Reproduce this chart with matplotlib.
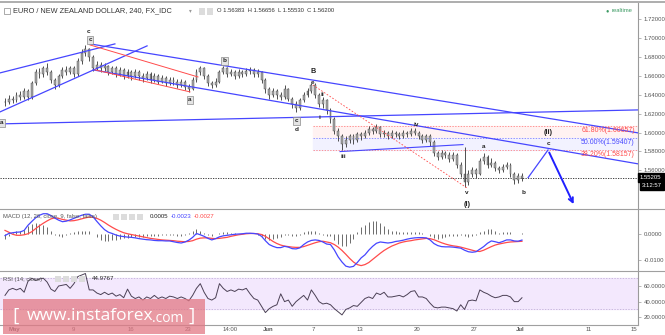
import matplotlib.pyplot as plt
from matplotlib.patches import Rectangle
from matplotlib.lines import Line2D

plt.rcParams['font.family'] = ['Liberation Sans', 'DejaVu Sans']

# 4H bars, EUR/NZD
close = [1.632, 1.636, 1.634, 1.640, 1.638, 1.644, 1.638, 1.652, 1.664, 1.662,
         1.668, 1.664, 1.656, 1.650, 1.660, 1.666, 1.664, 1.668, 1.662, 1.676,
         1.684, 1.688, 1.680, 1.668, 1.672, 1.668, 1.670, 1.664, 1.668, 1.662,
         1.666, 1.660, 1.664, 1.660, 1.664, 1.660, 1.658, 1.662, 1.656, 1.660,
         1.654, 1.658, 1.652, 1.656, 1.654, 1.650, 1.654, 1.648, 1.646, 1.656,
         1.664, 1.668, 1.660, 1.652, 1.650, 1.654, 1.664, 1.668, 1.662, 1.664,
         1.660, 1.664, 1.662, 1.665, 1.666, 1.662, 1.664, 1.656, 1.646, 1.640,
         1.644, 1.640, 1.638, 1.646, 1.636, 1.630, 1.626, 1.634, 1.640, 1.644,
         1.650, 1.640, 1.630, 1.634, 1.624, 1.614, 1.602, 1.596, 1.588, 1.592,
         1.596, 1.592, 1.598, 1.596, 1.600, 1.604, 1.602, 1.606, 1.598, 1.600,
         1.596, 1.600, 1.598, 1.596, 1.600, 1.598, 1.602, 1.600, 1.596, 1.592,
         1.596, 1.590, 1.578, 1.574, 1.578, 1.576, 1.572, 1.576, 1.566, 1.556,
         1.548, 1.556, 1.560, 1.556, 1.570, 1.574, 1.566, 1.568, 1.562, 1.560,
         1.564, 1.566, 1.556, 1.550, 1.554, 1.55205]
high = [1.637, 1.640, 1.639, 1.643, 1.644, 1.647, 1.646, 1.655, 1.667, 1.668,
        1.671, 1.674, 1.666, 1.658, 1.662, 1.669, 1.670, 1.671, 1.670, 1.679,
        1.688, 1.693, 1.690, 1.682, 1.676, 1.675, 1.674, 1.672, 1.671, 1.670,
        1.669, 1.668, 1.667, 1.666, 1.667, 1.666, 1.663, 1.665, 1.664, 1.663,
        1.662, 1.661, 1.660, 1.659, 1.659, 1.657, 1.657, 1.656, 1.651, 1.659,
        1.667, 1.670, 1.669, 1.662, 1.655, 1.658, 1.666, 1.670, 1.669, 1.667,
        1.666, 1.667, 1.666, 1.668, 1.669, 1.668, 1.667, 1.665, 1.658, 1.648,
        1.647, 1.646, 1.643, 1.650, 1.647, 1.638, 1.633, 1.637, 1.643, 1.647,
        1.653, 1.652, 1.642, 1.638, 1.636, 1.626, 1.616, 1.605, 1.598, 1.596,
        1.599, 1.598, 1.601, 1.601, 1.603, 1.607, 1.606, 1.609, 1.607, 1.603,
        1.602, 1.603, 1.602, 1.601, 1.603, 1.602, 1.605, 1.605, 1.602, 1.598,
        1.599, 1.598, 1.592, 1.581, 1.582, 1.581, 1.579, 1.579, 1.578, 1.569,
        1.585, 1.560, 1.564, 1.562, 1.573, 1.578, 1.576, 1.573, 1.570, 1.565,
        1.567, 1.569, 1.568, 1.558, 1.557, 1.557]
low = [1.628, 1.630, 1.631, 1.632, 1.635, 1.636, 1.634, 1.636, 1.650, 1.658,
       1.659, 1.661, 1.653, 1.646, 1.648, 1.658, 1.661, 1.662, 1.659, 1.660,
       1.673, 1.681, 1.676, 1.665, 1.666, 1.664, 1.665, 1.661, 1.662, 1.659,
       1.660, 1.657, 1.658, 1.656, 1.658, 1.656, 1.654, 1.656, 1.653, 1.654,
       1.651, 1.652, 1.649, 1.650, 1.650, 1.647, 1.648, 1.645, 1.643, 1.645,
       1.654, 1.661, 1.657, 1.649, 1.647, 1.648, 1.652, 1.662, 1.659, 1.660,
       1.657, 1.658, 1.659, 1.660, 1.662, 1.659, 1.659, 1.652, 1.642, 1.636,
       1.638, 1.636, 1.634, 1.636, 1.633, 1.626, 1.622, 1.624, 1.632, 1.638,
       1.642, 1.637, 1.627, 1.626, 1.620, 1.610, 1.598, 1.591, 1.582, 1.585,
       1.589, 1.588, 1.590, 1.592, 1.594, 1.597, 1.598, 1.600, 1.595, 1.595,
       1.593, 1.594, 1.595, 1.593, 1.594, 1.595, 1.596, 1.597, 1.593, 1.589,
       1.590, 1.586, 1.575, 1.571, 1.572, 1.573, 1.569, 1.570, 1.563, 1.553,
       1.542, 1.545, 1.553, 1.552, 1.555, 1.567, 1.563, 1.564, 1.559, 1.557,
       1.558, 1.561, 1.553, 1.546, 1.547, 1.549]

macd = [-0.0005, 0.0003, 0.0006, 0.0008, 0.0009, 0.0015, 0.0035, 0.0050, 0.0064, 0.0074,
        0.0080, 0.0080, 0.0073, 0.0063, 0.0055, 0.0049, 0.0051, 0.0056, 0.0062, 0.0068,
        0.0074, 0.0078, 0.0078, 0.0068, 0.0050, 0.0033, 0.0018, 0.0008, 0.0003, -0.0003,
        -0.0007, -0.0009, -0.0011, -0.0012, -0.0014, -0.0017, -0.0019, -0.0021, -0.0022, -0.0024,
        -0.0025, -0.0025, -0.0026, -0.0026, -0.0029, -0.0032, -0.0034, -0.0030, -0.0023, -0.0012,
        0.0003, -0.0002, -0.0008, -0.0016, -0.0022, -0.0017, -0.0010, -0.0006, -0.0004, -0.0002,
        0.0000, 0.0001, 0.0002, 0.0004, 0.0004, 0.0003, 0.0001, -0.0008, -0.0025, -0.0040,
        -0.0047, -0.0052, -0.0052, -0.0047, -0.0050, -0.0056, -0.0057, -0.0053, -0.0040, -0.0030,
        -0.0024, -0.0022, -0.0024, -0.0030, -0.0038, -0.0040, -0.0061, -0.0088, -0.0108, -0.0124,
        -0.0128, -0.0125, -0.0110, -0.0092, -0.0080, -0.0062, -0.0047, -0.0035, -0.0030, -0.0032,
        -0.0034, -0.0032, -0.0028, -0.0026, -0.0023, -0.0019, -0.0016, -0.0014, -0.0013, -0.0013,
        -0.0014, -0.0022, -0.0036, -0.0044, -0.0048, -0.0049, -0.0049, -0.0050, -0.0052, -0.0054,
        -0.0062, -0.0068, -0.0070, -0.0068, -0.0058, -0.0048, -0.0035, -0.0026, -0.0029, -0.0033,
        -0.0028, -0.0022, -0.0022, -0.0026, -0.0027, -0.00226]
signal = [0.0015, 0.0008, 0.0000, -0.0004, -0.0004, -0.0002, 0.0002, 0.0010, 0.0022, 0.0033,
          0.0043, 0.0052, 0.0060, 0.0064, 0.0062, 0.0058, 0.0055, 0.0052, 0.0053, 0.0056,
          0.0060, 0.0064, 0.0067, 0.0066, 0.0062, 0.0055, 0.0046, 0.0036, 0.0027, 0.0019,
          0.0012, 0.0006, 0.0002, -0.0001, -0.0004, -0.0007, -0.0010, -0.0013, -0.0016, -0.0018,
          -0.0020, -0.0022, -0.0023, -0.0024, -0.0025, -0.0027, -0.0028, -0.0029, -0.0028, -0.0025,
          -0.0019, -0.0015, -0.0014, -0.0014, -0.0016, -0.0017, -0.0016, -0.0014, -0.0012, -0.0008,
          -0.0005, -0.0002, 0.0000, 0.0002, 0.0003, 0.0003, 0.0002, -0.0001, -0.0008, -0.0018,
          -0.0028, -0.0036, -0.0042, -0.0046, -0.0048, -0.0050, -0.0051, -0.0051, -0.0048, -0.0043,
          -0.0038, -0.0033, -0.0029, -0.0027, -0.0030, -0.0033, -0.0040, -0.0050, -0.0063, -0.0078,
          -0.0094, -0.0108, -0.0118, -0.0122, -0.0118, -0.0110, -0.0098, -0.0086, -0.0074, -0.0063,
          -0.0054, -0.0046, -0.0040, -0.0034, -0.0030, -0.0027, -0.0025, -0.0022, -0.0020, -0.0018,
          -0.0016, -0.0017, -0.0021, -0.0027, -0.0033, -0.0038, -0.0042, -0.0045, -0.0047, -0.0050,
          -0.0054, -0.0058, -0.0062, -0.0066, -0.0067, -0.0062, -0.0055, -0.0048, -0.0042, -0.0038,
          -0.0035, -0.0032, -0.0030, -0.0029, -0.0028, -0.00274]

rsi = [48, 55, 57, 55, 57, 52, 66, 70, 67, 69,
       70, 65, 56, 53, 60, 61, 62, 57, 63, 72,
       74, 76, 55, 55, 51, 49, 52, 49, 51, 47,
       49, 45, 56, 47, 44, 46, 42, 46, 44, 48,
       44, 46, 44, 47, 46, 44, 46, 44, 41, 48,
       57, 63, 52, 44, 42, 45, 63, 57, 53, 55,
       53, 56, 55, 57, 50, 44, 42, 34, 26, 31,
       34, 36, 50, 40, 42, 34, 40, 44, 48, 42,
       55, 48, 40, 37, 38, 36, 31, 27, 23, 30,
       32, 35, 34, 39, 44, 46, 44, 51, 49, 52,
       46, 46, 47, 48, 46, 49, 53, 54, 46, 46,
       44, 38, 33, 32, 33, 33, 32, 31, 28, 36,
       30, 41, 42, 41, 55, 52, 50, 47, 45, 46,
       48, 48, 46, 40, 40, 44.9767]

date_ticks = [2.35, 17.75, 32.9, 47.8, 58.7, 68.7, 80.4, 92.7, 107.6, 122.5, 134.5, 152.5, 164.3]
date_labels = ['May', '9', '16', '23', '14:00', 'Jun', '7', '13', '20', '27', 'Jul', '11', '15']

fib_levels = [1.60657, 1.59407, 1.58157]
fib_names = ['61.80%', '50.00%', '38.20%']
last_price = 1.55205

# drawn trendlines: (x pair, price pair)
rise_upper = ([-1.3, 28.7], [1.6632, 1.6939])
rise_lower = ([-1.3, 37.1], [1.6219, 1.6918])
fall_upper = ([22.2, 165.3], [1.6939, 1.5997])
fall_lower = ([23.0, 165.3], [1.6664, 1.5669])
flat_line = ([-1.3, 165.3], [1.6092, 1.6240])
wave_iii_line = ([87.5, 119.6], [1.5799, 1.5873])
red_upper = ([22.2, 50.4], [1.6928, 1.6589])
red_lower = ([23.5, 48.3], [1.6664, 1.6431])
red_dotted = ([80.4, 120.6], [1.6504, 1.5415])
projection = ([136.6, 141.8], [1.5523, 1.58157])
arrow_end = (148.8, 1.5216)

wave_labels = [('c', 21.7, 1.7066, False), ('c', 22.2, 1.6981, True),
               ('b', 57.2, 1.6759, True), ('a', 48.3, 1.6346, True),
               ('B', 80.4, 1.6642, False), ('e', 80.4, 1.6527, False),
               ('ii', 83.0, 1.6400, False), ('c', 76.2, 1.6123, True),
               ('d', 76.2, 1.6028, False), ('i', 82.0, 1.6155, False),
               ('a', -0.9, 1.6102, True), ('iii', 88.3, 1.5743, False),
               ('iv', 107.3, 1.6082, False), ('v', 120.6, 1.5362, False),
               ('(i)', 120.6, 1.5235, False), ('a', 125.1, 1.5850, False),
               ('b', 135.5, 1.5362, False), ('(ii)', 141.8, 1.6004, False),
               ('c', 141.8, 1.5888, False)]

W, H = 665, 335
BLUE = '#4646ff'
RED = '#ff4b4b'
GREY_TXT = '#555555'


def fx(px):
    return px / W


def fy(py):
    return 1 - py / H


fig = plt.figure(figsize=(W / 100, H / 100), dpi=100)
fig.patch.set_facecolor('white')

ax = fig.add_axes([0, fy(209), fx(638), (209 - 3) / H])
ax_m = fig.add_axes([0, fy(271), fx(638), 62 / H], sharex=ax)
ax_r = fig.add_axes([0, fy(325), fx(638), 54 / H], sharex=ax)

xs = list(range(len(close)))
opens = [close[0]] + close[:-1]

for a in (ax, ax_m, ax_r):
    for s in a.spines.values():
        s.set_visible(False)
    a.spines['right'].set_visible(True)
    a.spines['right'].set_color('#9a9a9a')
    a.spines['right'].set_linewidth(0.8)
    a.yaxis.tick_right()
    a.tick_params(axis='y', length=2, width=0.5, color='#9a9a9a', labelsize=4.3,
                  labelcolor=GREY_TXT, pad=2)
    a.tick_params(axis='x', length=0, labelbottom=False)
    a.set_facecolor('none')

ax.set_xlim(-1.305, 165.3)

# price bars
ax.vlines(xs, low, high, color='#333333', lw=0.6, zorder=3)
body_h = [abs(c - o) if abs(c - o) > 0.0006 else 0.0006 for o, c in zip(opens, close)]
body_b = [min(o, c) for o, c in zip(opens, close)]
ax.bar(xs, body_h, bottom=body_b, width=0.5, color='#a8a8a8', edgecolor='#444444',
       linewidth=0.3, zorder=4)

# trendlines
for xl, yl in (rise_upper, rise_lower, fall_upper, fall_lower, flat_line):
    ax.plot(xl, yl, color=BLUE, lw=0.9, zorder=5)
ax.plot(*wave_iii_line, color=BLUE, lw=0.8, zorder=5)
for xl, yl in (red_upper, red_lower):
    ax.plot(xl, yl, color=RED, lw=0.7, zorder=5)
ax.plot(*red_dotted, color=RED, lw=0.6, ls=(0, (2, 2)), zorder=5)

# fibonacci retracement zone
fib_start = red_dotted[0][0]
fib_colors = [RED, BLUE, RED]
ax.fill_between([fib_start, 165.3], fib_levels[1], fib_levels[0], color='#fff2f2', zorder=1)
ax.fill_between([fib_start, 165.3], fib_levels[2], fib_levels[1], color='#f2f2ff', zorder=1)
for lvl, name, col in zip(fib_levels, fib_names, fib_colors):
    ax.plot([fib_start, 165.3], [lvl, lvl], color=col, lw=0.5, ls=(0, (2, 2)), alpha=0.8, zorder=2)
    ax.text(0.995, lvl - 0.0006, f'{name}({lvl:.5f})', transform=ax.get_yaxis_transform(),
            ha='right', va='top', fontsize=5, color=col, zorder=6)

# projected path
ax.plot(*projection, color=BLUE, lw=0.9, zorder=5)
ax.annotate('', xy=arrow_end, xytext=(projection[0][1], projection[1][1]),
            arrowprops=dict(arrowstyle='->', color='#2020ff', lw=1.4, mutation_scale=8),
            zorder=6)

# current price
ax.axhline(last_price, color='#222222', lw=0.6, ls=(0, (1.5, 1.5)), zorder=2)
ax.text(1.003, last_price, f'{last_price:.5f}', transform=ax.get_yaxis_transform(),
        ha='left', va='center', fontsize=4.3, color='white', clip_on=False,
        bbox=dict(boxstyle='square,pad=0.35', fc='black', ec='black'))
ax.text(1.006, last_price - 0.0078, '3:12:57', transform=ax.get_yaxis_transform(),
        ha='left', va='center', fontsize=4.3, color='white', clip_on=False,
        bbox=dict(boxstyle='square,pad=0.35', fc='black', ec='black'))

for txt, x, y, boxed in wave_labels:
    size = 5.2 if txt in ('B', '(i)', '(ii)') else 4.6
    kw = dict(ha='center', va='center', fontsize=size, color='#222222', zorder=7,
              fontweight='bold')
    if boxed:
        kw['bbox'] = dict(boxstyle='square,pad=0.25', fc='#e4e4e4', ec='#8a8a8a', lw=0.5)
    ax.text(x, y, txt, **kw)

ax.set_ylim(1.5191, 1.7372)
ax.set_yticks([1.56, 1.58, 1.60, 1.62, 1.64, 1.66, 1.68, 1.70, 1.72])
ax.set_yticklabels([f'{v:.5f}' for v in ax.get_yticks()])

# MACD panel
hist = [m - s for m, s in zip(macd, signal)]
ax_m.vlines(xs, 0, hist, color='#555555', lw=0.6)
ax_m.plot(xs, signal, color=RED, lw=0.9)
ax_m.plot(xs, macd, color=BLUE, lw=0.9)
ax_m.set_ylim(-0.0143, 0.00984)
ax_m.set_yticks([0.0, -0.01])
ax_m.set_yticklabels(['0.0000', '-0.0100'])

# RSI panel
ax_r.axhspan(30, 70, color='#f3e8fd', zorder=0)
for lvl in (30, 70):
    ax_r.axhline(lvl, color='#b9a6d3', lw=0.5, ls=(0, (2, 2)), zorder=1)
ax_r.plot(xs, rsi, color='#4b4055', lw=0.7, zorder=3)
ax_r.set_ylim(10.1, 79.2)
ax_r.set_yticks([20, 40, 60])
ax_r.set_yticklabels(['20.0000', '40.0000', '60.0000'])
ax_r.set_xticks(date_ticks)
ax_r.set_xticklabels(date_labels)
ax_r.tick_params(axis='x', labelbottom=True, labelsize=4.3, labelcolor=GREY_TXT, pad=1.5)
for lab in ax_r.get_xticklabels():
    if lab.get_text() in ('May', 'Jun', 'Jul'):
        lab.set_fontweight('bold')

# panel borders
for py, x1 in ((1.5, 665), (209, 665), (271, 665), (325, 638)):
    fig.add_artist(Line2D([0, fx(x1)], [fy(py), fy(py)], color='#a0a0a0',
                          lw=1.2 if py == 1.5 else 0.8))

# headers
fig.add_artist(Rectangle((fx(4), fy(14)), fx(6), 6 / H, fc='white', ec='#888888', lw=0.5))
fig.text(fx(13), fy(11), 'EURO / NEW ZEALAND DOLLAR, 240, FX_IDC', fontsize=5.3,
         color='#333333', va='center')
fig.text(fx(189), fy(11), '\u25be', fontsize=4, color='#999999', va='center')
for px in (199, 207):
    fig.add_artist(Rectangle((fx(px), fy(14.5)), fx(6), 7 / H, fc='#dcdcdc', ec='none'))
fig.text(fx(217), fy(11), 'O 1.56383  H 1.56656  L 1.55530  C 1.56200', fontsize=4.2,
         color='#333333', va='center')
fig.text(fx(606), fy(11), '\u25cf', fontsize=4, color='#3c9a63', va='center')
fig.text(fx(612), fy(11), 'realtime', fontsize=4.2, color='#3c9a63', va='center')

fig.text(fx(3), fy(216.5), 'MACD (12, 26, close, 9, false, false)', fontsize=4.2,
         color=GREY_TXT, va='center')
for px in (113, 121, 129, 137):
    fig.add_artist(Rectangle((fx(px), fy(219.5)), fx(6), 6 / H, fc='#dcdcdc', ec='none'))
fig.text(fx(150), fy(216.5), '0.0005', fontsize=4.4, color='#222222', va='center')
fig.text(fx(171), fy(216.5), f'{macd[-1]:.4f}', fontsize=4.4, color=BLUE, va='center')
fig.text(fx(194), fy(216.5), f'{signal[-1]:.4f}', fontsize=4.4, color=RED, va='center')

fig.text(fx(3), fy(279), 'RSI (14, close)', fontsize=4.2, color=GREY_TXT, va='center')
for px in (55, 63, 71, 79):
    fig.add_artist(Rectangle((fx(px), fy(282)), fx(6), 6 / H, fc='#dcdcdc', ec='none'))
fig.text(fx(92), fy(279), f'{rsi[-1]:.4f}', fontsize=4.4, color='#222222', va='center')

# watermark
fig.add_artist(Rectangle((fx(3), fy(334)), fx(202), 35 / H, fc='#e27884', ec='none',
                         alpha=0.75, zorder=10))
fig.text(fx(12), fy(316), '[', fontsize=14, color='white', va='center', zorder=11,
         family='Open Sans')
fig.text(fx(27), fy(316), 'www.instaforex', fontsize=12.5, color='white', va='center',
         zorder=11, family='Open Sans')
fig.text(fx(152), fy(318), '.com', fontsize=10, color='white', va='center', zorder=11,
         family='Open Sans')
fig.text(fx(189), fy(316), ']', fontsize=14, color='white', va='center', zorder=11,
         family='Open Sans')

fig.savefig('out.png', dpi=100, facecolor='white')
